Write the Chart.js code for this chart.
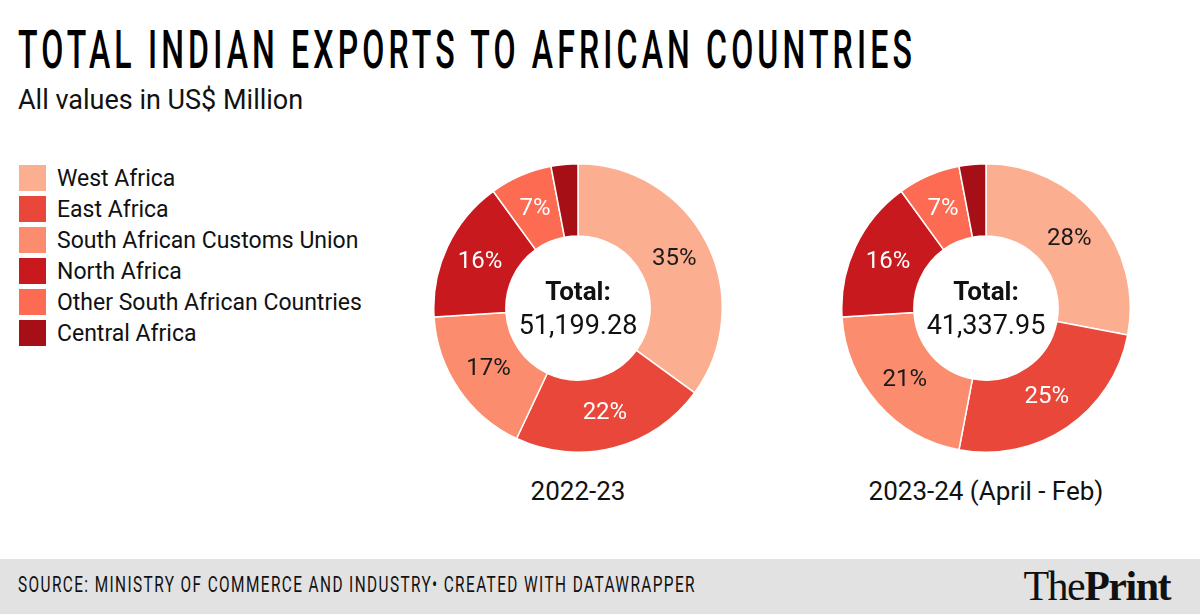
<!DOCTYPE html>
<html>
<head>
<meta charset="utf-8">
<script src="https://cdn.jsdelivr.net/npm/chart.js@4/dist/chart.umd.min.js"></script>
<style>
  html, body { margin: 0; padding: 0; background: #fff; }
  body { width: 1200px; height: 614px; position: relative; overflow: hidden; font-family: Roboto, "Noto Sans", sans-serif; color: #1a1a1a; }
  #title { position: absolute; left: 18px; top: 20px; font-family: Roboto, sans-serif; font-weight: 500; font-size: 54px; line-height: 60px; letter-spacing: 7px; white-space: nowrap; transform-origin: 0 0; color: #000; }
  #subtitle { position: absolute; left: 18px; top: 84px; font-size: 27px; color: #111; }
  #legend { position: absolute; left: 19px; top: 165px; }
  .li { height: 31px; display: flex; align-items: flex-start; }
  .sw { width: 27px; height: 26px; margin-right: 11px; flex: none; }
  .lt { font-size: 23px; line-height: 27px; color: #111; }
  .wrap { position: absolute; width: 290px; height: 290px; top: 163px; }
  .period { position: absolute; top: 476px; font-size: 26px; width: 400px; text-align: center; color: #111; }
  #footer { position: absolute; left: 0; top: 559px; width: 1200px; height: 55px; background: #e2e2e2; }
  #source { position: absolute; left: 18px; top: 13px; font-family: Roboto, sans-serif; font-size: 22px; letter-spacing: 2px; white-space: nowrap; transform-origin: 0 0; color: #111; }
  #logo { position: absolute; right: 30px; top: 3px; font-family: "Liberation Serif", "DejaVu Serif", serif; font-size: 42px; letter-spacing: -1.5px; color: #111; }
  #logo b { font-weight: 700; }
</style>
</head>
<body>
<div id="title">TOTAL INDIAN EXPORTS TO AFRICAN COUNTRIES</div>
<div id="subtitle">All values in US$ Million</div>
<div id="legend"></div>
<div class="wrap" style="left:433px;"><canvas id="c1"></canvas></div>
<div class="wrap" style="left:841px;"><canvas id="c2"></canvas></div>
<div class="period" style="left:378px;" id="p1"></div>
<div class="period" style="left:786px;" id="p2"></div>
<div id="footer">
  <div id="source">SOURCE: MINISTRY OF COMMERCE AND INDUSTRY• CREATED WITH DATAWRAPPER</div>
  <div id="logo">The<b>Print</b></div>
</div>
<script>
const categories = ['West Africa', 'East Africa', 'South African Customs Union', 'North Africa', 'Other South African Countries', 'Central Africa'];
const shares2022 = [35, 22, 17, 16, 7, 3];
const shares2023 = [28, 25, 21, 16, 7, 3];
const periods = ['2022-23', '2023-24 (April - Feb)'];
const totals = ['51,199.28', '41,337.95'];
const colors = ['#fcae91', '#e8473a', '#fb8d6e', '#c81a1e', '#fd6b52', '#a50f15'];
const labelColors = ['#1a1a1a', '#ffffff', '#1a1a1a', '#ffffff', '#ffffff', '#ffffff'];

// legend
const lg = document.getElementById('legend');
categories.forEach((c, i) => {
  const d = document.createElement('div'); d.className = 'li';
  d.innerHTML = '<div class="sw" style="background:' + colors[i] + '"></div><div class="lt">' + c + '</div>';
  lg.appendChild(d);
});
document.getElementById('p1').textContent = periods[0];
document.getElementById('p2').textContent = periods[1];

// fit condensed text
function fit(id, w) {
  const el = document.getElementById(id);
  const cw = el.getBoundingClientRect().width;
  el.style.transform = 'scaleX(' + (w / cw) + ')';
}
fit('title', 898);
fit('source', 678);

const labelPlugin = {
  id: 'labels',
  afterDatasetsDraw(chart, args, opts) {
    const ctx = chart.ctx;
    const meta = chart.getDatasetMeta(0);
    const data = chart.data.datasets[0].data;
    const sum = data.reduce((a, b) => a + b, 0);
    ctx.save();
    ctx.textAlign = 'center';
    ctx.textBaseline = 'middle';
    ctx.font = '24px Roboto';
    meta.data.forEach((arc, i) => {
      const pct = Math.round(data[i] / sum * 100);
      if (pct < 5) return;
      const p = arc.tooltipPosition();
      ctx.fillStyle = labelColors[i];
      ctx.fillText(pct + '%', p.x, p.y);
    });
    const cx = (chart.chartArea.left + chart.chartArea.right) / 2;
    const cy = (chart.chartArea.top + chart.chartArea.bottom) / 2;
    ctx.fillStyle = '#111';
    ctx.font = 'bold 26px Roboto';
    ctx.fillText('Total:', cx, cy - 15);
    ctx.font = '27px Roboto';
    ctx.fillText(opts.total, cx, cy + 19);
    ctx.restore();
  }
};

function make(id, data, total) {
  return new Chart(document.getElementById(id), {
    type: 'doughnut',
    data: { labels: categories, datasets: [{ data: data, backgroundColor: colors, borderColor: '#ffffff', borderWidth: 1.5, hoverOffset: 0 }] },
    options: {
      responsive: true, maintainAspectRatio: false, animation: false,
      cutout: '50%',
      layout: { padding: 0 },
      plugins: { legend: { display: false }, tooltip: { enabled: false }, labels: { total: total } },
      events: []
    },
    plugins: [labelPlugin]
  });
}
make('c1', shares2022, totals[0]);
make('c2', shares2023, totals[1]);
</script>
</body>
</html>
